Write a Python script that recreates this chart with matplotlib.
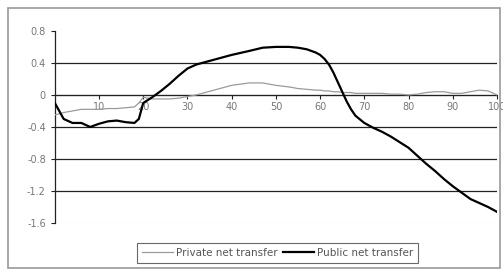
import matplotlib.pyplot as plt
from matplotlib.patches import Rectangle

age = [0, 2, 4, 6, 8, 10, 12, 14, 16, 18, 19, 20, 22, 24, 26, 28, 30, 32, 36, 40, 44, 47, 50, 53, 55,
       57, 59, 60, 61, 62, 63, 64, 65, 66, 67, 68, 70, 72, 74, 76, 78, 80, 82, 84, 86, 88, 90, 92,
       94, 96, 98, 100]
public = [-0.1, -0.3, -0.35, -0.35, -0.4, -0.36, -0.33, -0.32, -0.34, -0.35, -0.3, -0.1, -0.03, 0.05,
          0.14, 0.24, 0.33, 0.38, 0.44, 0.5, 0.55, 0.59, 0.6, 0.6, 0.59, 0.57, 0.53, 0.5, 0.45, 0.38,
          0.28, 0.16, 0.04, -0.08, -0.18, -0.26, -0.35, -0.41, -0.46, -0.52, -0.59, -0.66, -0.76,
          -0.86, -0.95, -1.05, -1.14, -1.22, -1.3, -1.35, -1.4, -1.46]
private = [-0.25, -0.22, -0.2, -0.18, -0.18, -0.18, -0.17, -0.17, -0.16, -0.15, -0.1, -0.03, -0.05,
           -0.05, -0.05, -0.04, -0.02, 0.0, 0.06, 0.12, 0.15, 0.15, 0.12, 0.1, 0.08, 0.07, 0.06,
           0.06, 0.05, 0.05, 0.04, 0.04, 0.03, 0.03, 0.03, 0.02, 0.02, 0.02, 0.02, 0.01, 0.01, 0.0,
           0.01, 0.03, 0.04, 0.04, 0.02, 0.02, 0.04, 0.06, 0.05, 0.0]
yticks = [0.8, 0.4, 0, -0.4, -0.8, -1.2, -1.6]
xticks = [10, 20, 30, 40, 50, 60, 70, 80, 90, 100]

fig = plt.figure(figsize=(5.03, 2.71), dpi=100)
fig.patch.set_facecolor('white')
# outer chart frame
fig.patches.append(Rectangle((0.016, 0.012), 0.978, 0.96, transform=fig.transFigure,
                             fill=False, edgecolor='#9a9a9a', linewidth=1.2))

ax = fig.add_axes([0.109, 0.177, 0.879, 0.709])
ax.set_xlim(0, 100)
ax.set_ylim(-1.6, 0.8)

for g in [0.4, 0, -0.4, -0.8, -1.2]:
    ax.axhline(g, color='#222222', linewidth=0.9, zorder=1)
ax.axhline(-1.6, color='#cccccc', linewidth=0.8, zorder=1)

ax.plot(age, private, color='#9a9a9a', linewidth=0.9, label='Private net transfer', zorder=3)
ax.plot(age, public, color='black', linewidth=1.6, label='Public net transfer', zorder=4)

for s in ['top', 'right']:
    ax.spines[s].set_visible(False)
ax.spines['bottom'].set_position(('data', 0))
ax.spines['bottom'].set_color('#222222')
ax.spines['left'].set_color('#222222')
ax.spines['left'].set_linewidth(0.9)

ax.set_yticks(yticks)
ax.set_yticklabels(['0.8', '0.4', '0', '-0.4', '-0.8', '-1.2', '-1.6'])
ax.set_xticks(xticks)
ax.set_xticklabels([str(t) for t in xticks])
ax.tick_params(axis='both', labelsize=7, colors='#222222', labelcolor='#777777', length=3)
ax.tick_params(axis='x', direction='out', pad=2)

leg = fig.legend(loc='lower center', bbox_to_anchor=(0.552, 0.012), ncol=2, fontsize=7.5,
                 frameon=True, fancybox=False, handlelength=3.0, handletextpad=0.3,
                 columnspacing=0.5, borderpad=0.45)
leg.get_frame().set_edgecolor('#444444')
leg.get_frame().set_linewidth(0.8)
for t in leg.get_texts():
    t.set_color('#555555')

plt.savefig('out.png', dpi=100)
